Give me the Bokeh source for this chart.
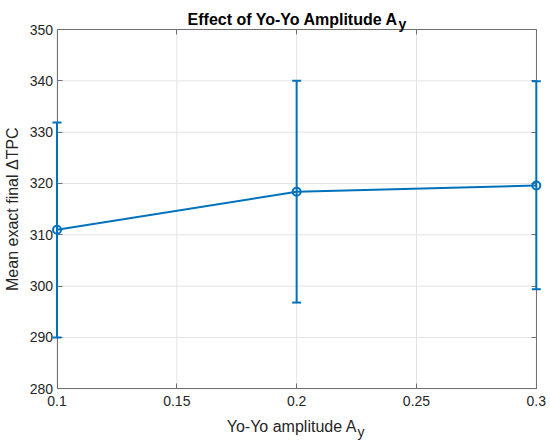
from bokeh.plotting import figure
from bokeh.models import (Range1d, FixedTicker, LinearAxis, Label, Whisker, TeeHead,
                          ColumnDataSource, CustomLabelingPolicy)
from bokeh.embed import file_html
from bokeh.resources import INLINE

# ---- data ----
amplitudes = [0.1, 0.2, 0.3]
mean_tpc = [311.0, 318.4, 319.6]
lower_tpc = [290.0, 296.8, 299.4]
upper_tpc = [331.9, 340.0, 339.9]

x_ticks = [0.1, 0.15, 0.2, 0.25, 0.3]
x_tick_labels = ["0.1", "0.15", "0.2", "0.25", "0.3"]
y_ticks = [280, 290, 300, 310, 320, 330, 340, 350]
y_tick_labels = ["280", "290", "300", "310", "320", "330", "340", "350"]

title_main = "Effect of Yo-Yo Amplitude A"
title_sub = "y"
xlabel_main = "Yo-Yo amplitude A"
xlabel_sub = "y"
ylabel_text = "Mean exact final \u0394TPC"

# ---- style / layout ----
W, H = 550, 445
BOX_L, BOX_R, BOX_T, BOX_B = 56.5, 535.8, 29.0, 388.3
BLUE = "#0072BD"
TXT = "#262626"
AXC = "#707070"
GRID = "#e3e3e3"
FONT = "Liberation Sans"

x_lo, x_hi = x_ticks[0], x_ticks[-1]
y_lo, y_hi = y_ticks[0], y_ticks[-1]
sx = (BOX_R - BOX_L) / (x_hi - x_lo)
sy = (BOX_B - BOX_T) / (y_hi - y_lo)
x_mid = (x_lo + x_hi) / 2
y_mid = (y_lo + y_hi) / 2
mid_px = (BOX_L + BOX_R) / 2

p = figure(width=W, height=H,
           x_range=Range1d(x_lo - BOX_L / sx, x_hi + (W - BOX_R) / sx),
           y_range=Range1d(y_lo - (H - BOX_B) / sy, y_hi + BOX_T / sy),
           min_border=0, min_border_left=0, min_border_right=0,
           min_border_top=0, min_border_bottom=0,
           x_axis_type=None, y_axis_type=None,
           toolbar_location=None, output_backend="svg")
p.outline_line_color = None
p.background_fill_color = "white"
p.border_fill_color = "white"

xt = FixedTicker(ticks=x_ticks)
yt = FixedTicker(ticks=y_ticks)
no_labels = CustomLabelingPolicy(
    code="for (let i = 0; i < indices.size; i++) { indices.unset(i) } return indices")

common = dict(minor_tick_in=0, minor_tick_out=0, major_tick_line_color=AXC,
              major_tick_line_width=1, axis_line_color=AXC, axis_line_width=1,
              major_tick_in=5, major_tick_out=0, level="underlay",
              major_label_text_font=FONT, major_label_text_font_size="14px",
              major_label_text_color=TXT)

bottom = LinearAxis(ticker=xt, fixed_location=y_lo, bounds=(x_lo, x_hi),
                    major_label_standoff=7,
                    major_label_overrides={v: l for v, l in zip(x_ticks, x_tick_labels)},
                    **common)
p.add_layout(bottom, "below")
top = LinearAxis(ticker=xt, fixed_location=y_hi, bounds=(x_lo, x_hi),
                 major_label_policy=no_labels, **common)
p.add_layout(top, "above")
left = LinearAxis(ticker=yt, fixed_location=x_lo, bounds=(y_lo, y_hi),
                  major_label_standoff=4,
                  major_label_overrides={v: l for v, l in zip(y_ticks, y_tick_labels)},
                  **common)
p.add_layout(left, "left")
right = LinearAxis(ticker=yt, fixed_location=x_hi, bounds=(y_lo, y_hi),
                   major_label_policy=no_labels, **common)
p.add_layout(right, "right")

# grid lines inside the box
p.segment(x0=[x_lo] * len(y_ticks), x1=[x_hi] * len(y_ticks), y0=y_ticks, y1=y_ticks,
          line_color=GRID, line_width=1, level="image")
p.segment(x0=x_ticks, x1=x_ticks, y0=[y_lo] * len(x_ticks), y1=[y_hi] * len(x_ticks),
          line_color=GRID, line_width=1, level="image")

# data
src = ColumnDataSource(dict(x=amplitudes, m=mean_tpc, lo=lower_tpc, up=upper_tpc))
p.line("x", "m", source=src, line_color=BLUE, line_width=2)
p.scatter("x", "m", source=src, marker="circle", size=8, fill_color=None,
          line_color=BLUE, line_width=2)
p.add_layout(Whisker(base="x", lower="lo", upper="up", source=src,
                     line_color=BLUE, line_width=2, level="annotation",
                     lower_head=TeeHead(size=9, line_color=BLUE, line_width=2),
                     upper_head=TeeHead(size=9, line_color=BLUE, line_width=2)))

# title and axis labels (text with subscripts)
p.add_layout(Label(x=x_mid, y=y_hi, x_offset=398 - mid_px, y_offset=BOX_T - 18.5,
                   text=title_main, text_align="right", text_baseline="alphabetic",
                   text_font=FONT, text_font_size="16px", text_font_style="bold",
                   text_color="#000000"))
p.add_layout(Label(x=x_mid, y=y_hi, x_offset=398 - mid_px, y_offset=BOX_T - 23.7,
                   text=title_sub, text_align="left", text_baseline="alphabetic",
                   text_font=FONT, text_font_size="14px", text_font_style="bold",
                   text_color="#000000"))
p.add_layout(Label(x=x_mid, y=y_lo, x_offset=356.7 - mid_px, y_offset=BOX_B - 426,
                   text=xlabel_main, text_align="right", text_baseline="alphabetic",
                   text_font=FONT, text_font_size="16px", text_color=TXT))
p.add_layout(Label(x=x_mid, y=y_lo, x_offset=357 - mid_px, y_offset=BOX_B - 431.5,
                   text=xlabel_sub, text_align="left", text_baseline="alphabetic",
                   text_font=FONT, text_font_size="14px", text_color=TXT))
p.add_layout(Label(x=x_lo, y=y_mid, x_offset=12 - BOX_L, y_offset=0, text=ylabel_text,
                   angle=1.5707963267948966, text_align="center", text_baseline="alphabetic",
                   text_font=FONT, text_font_size="16px", text_color=TXT))

open("out.html", "w").write(file_html(p, INLINE))
